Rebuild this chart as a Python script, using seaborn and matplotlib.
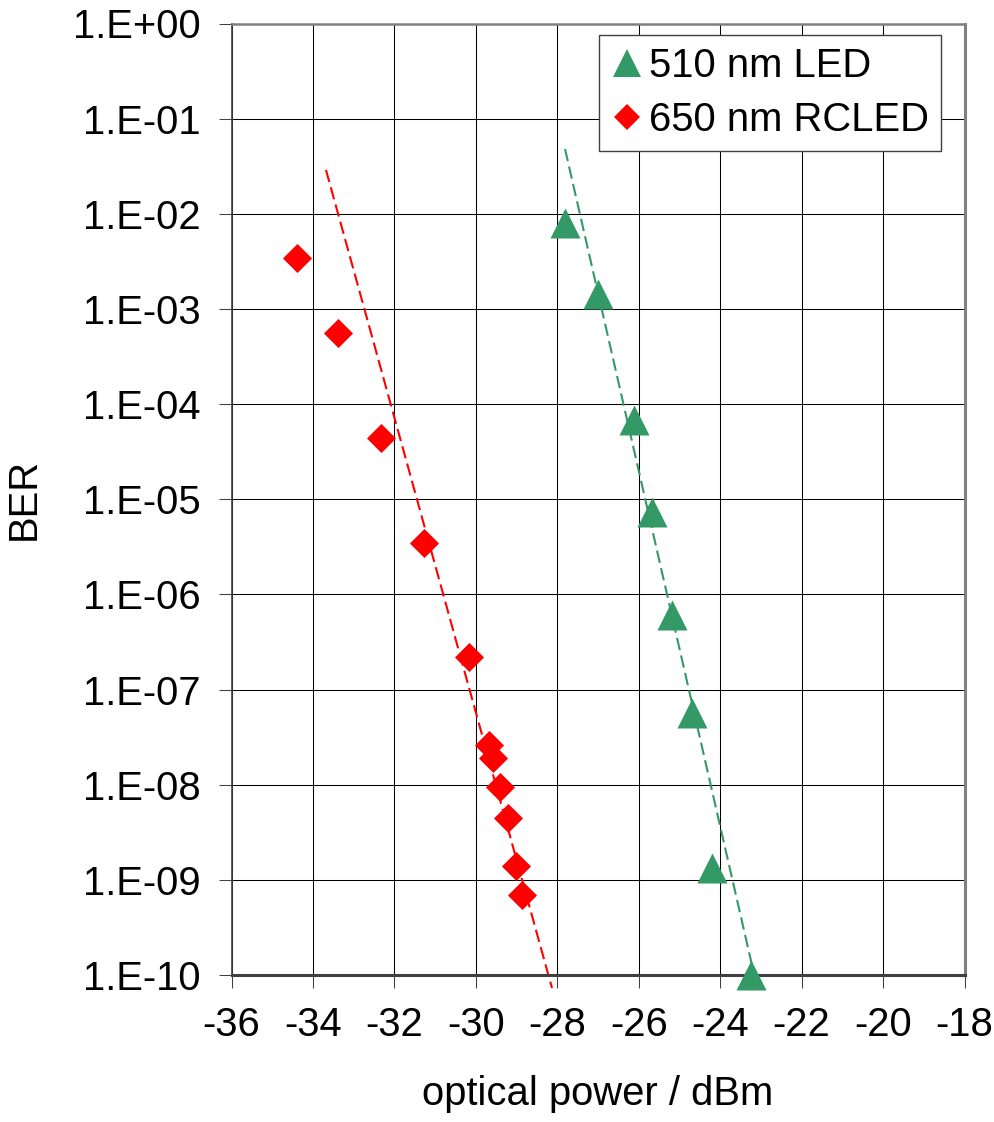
import math
import matplotlib
matplotlib.use("Agg")
import matplotlib.pyplot as plt
from matplotlib.lines import Line2D
from matplotlib.ticker import FixedLocator, FuncFormatter, NullLocator
import seaborn as sns
import pandas as pd

# ---------------- data ----------------
series_names = ["510 nm LED", "650 nm RCLED"]

led_power = [-27.81, -27.00, -26.12, -25.67, -25.18, -24.69, -24.21, -23.24]
led_ber = [8.1e-3, 1.44e-3, 6.8e-5, 7.4e-6, 6.1e-7, 5.7e-8, 1.32e-9, 1.0e-10]

rcled_power = [-34.40, -33.39, -32.34, -31.27, -30.18, -29.68, -29.58,
               -29.41, -29.21, -29.01, -28.87]
rcled_ber = [3.41e-3, 5.55e-4, 4.37e-5, 3.49e-6, 2.18e-7, 2.61e-8, 1.91e-8,
             9.46e-9, 4.47e-9, 1.40e-9, 6.93e-10]

led_fit_power = [-27.81, -23.09]
led_fit_ber = [4.8e-2, 7.3e-11]
rcled_fit_power = [-33.68, -28.13]
rcled_fit_ber = [2.89e-2, 7.3e-11]

x_ticks = [-36, -34, -32, -30, -28, -26, -24, -22, -20, -18]
y_exponents = [0, -1, -2, -3, -4, -5, -6, -7, -8, -9, -10]

x_label = "optical power / dBm"
y_label = "BER"

# ---------------- style ----------------
sns.set_style("white")
plt.rcParams["font.family"] = ["Liberation Sans", "DejaVu Sans"]
plt.rcParams["text.color"] = "black"
plt.rcParams["axes.labelcolor"] = "black"
plt.rcParams["xtick.labelcolor"] = "black"
plt.rcParams["ytick.labelcolor"] = "black"

GREEN = "#339966"
RED = "#FF0000"
FS = 28.8

W, H = 995, 1122
fig = plt.figure(figsize=(W / 100, H / 100), dpi=100)
x0, x1, ytop, ybot = 231.5, 964.5, 23.5, 975.0
ax = fig.add_axes([x0 / W, 1 - ybot / H, (x1 - x0) / W, (ybot - ytop) / H])

led_df = pd.DataFrame({"power": led_power, "ber": led_ber})
rcled_df = pd.DataFrame({"power": rcled_power, "ber": rcled_ber})
led_fit = pd.DataFrame({"power": led_fit_power, "ber": led_fit_ber})
rcled_fit = pd.DataFrame({"power": rcled_fit_power, "ber": rcled_fit_ber})

dash = (0, (6, 2.6))
sns.lineplot(data=rcled_fit, x="power", y="ber", ax=ax, color=RED, lw=1.5,
             linestyle=dash, sort=False, estimator=None, clip_on=False,
             zorder=2, legend=False)
sns.lineplot(data=led_fit, x="power", y="ber", ax=ax, color=GREEN, lw=1.5,
             linestyle=dash, sort=False, estimator=None, clip_on=False,
             zorder=2, legend=False)

tri_ms = 21.6
dia_ms = 14.8
sns.scatterplot(data=rcled_df, x="power", y="ber", ax=ax, marker="D",
                s=dia_ms ** 2, color=RED, linewidth=0, clip_on=False,
                zorder=3, legend=False)
sns.scatterplot(data=led_df, x="power", y="ber", ax=ax, marker="^",
                s=tri_ms ** 2, color=GREEN, linewidth=0, clip_on=False,
                zorder=3, legend=False)

ax.set_yscale("log")
ax.set_xlim(x_ticks[0], x_ticks[-1])
ax.set_ylim(10.0 ** y_exponents[-1], 10.0 ** y_exponents[0])
ax.xaxis.set_major_locator(FixedLocator(x_ticks))
ax.yaxis.set_major_locator(FixedLocator([10.0 ** e for e in y_exponents]))
ax.yaxis.set_minor_locator(NullLocator())
ax.xaxis.set_major_formatter(FuncFormatter(lambda v, p: f"{v:.0f}"))
ax.yaxis.set_major_formatter(FuncFormatter(
    lambda v, p: "1.E{:+03d}".format(int(round(math.log10(v))))))

ax.grid(True, which="major", color="black", lw=0.75)
ax.set_axisbelow(True)

ax.tick_params(axis="both", which="major", direction="out", length=9.5,
               width=0.75, color="#404040", labelsize=FS, pad=13,
               left=True, bottom=True, labelcolor="black")

for name, col, lw in [("left", "#404040", 1.2), ("bottom", "#404040", 2.2),
                      ("top", "#808080", 1.8), ("right", "#808080", 2.2)]:
    ax.spines[name].set_visible(True)
    ax.spines[name].set_color(col)
    ax.spines[name].set_linewidth(lw)

ax.set_xlabel(x_label, fontsize=FS, labelpad=22, color="black")
ax.set_ylabel(y_label, fontsize=FS, color="black")
ax.yaxis.set_label_coords(-0.257, 0.5)

handles = [
    Line2D([], [], marker="^", ms=20, color=GREEN, ls="none", mew=0),
    Line2D([], [], marker="D", ms=13.5, color=RED, ls="none", mew=0),
]
leg = ax.legend(handles, series_names, loc="upper right",
                bbox_to_anchor=(0.9675, 0.988), borderaxespad=0,
                fontsize=FS, frameon=True, fancybox=False, framealpha=1,
                edgecolor="#404040", borderpad=0.3, labelspacing=0.4,
                handlelength=0.8, handletextpad=0.15)
leg.get_frame().set_linewidth(1.0)
for t in leg.get_texts():
    t.set_color("black")

fig.savefig("out.png", dpi=100)
